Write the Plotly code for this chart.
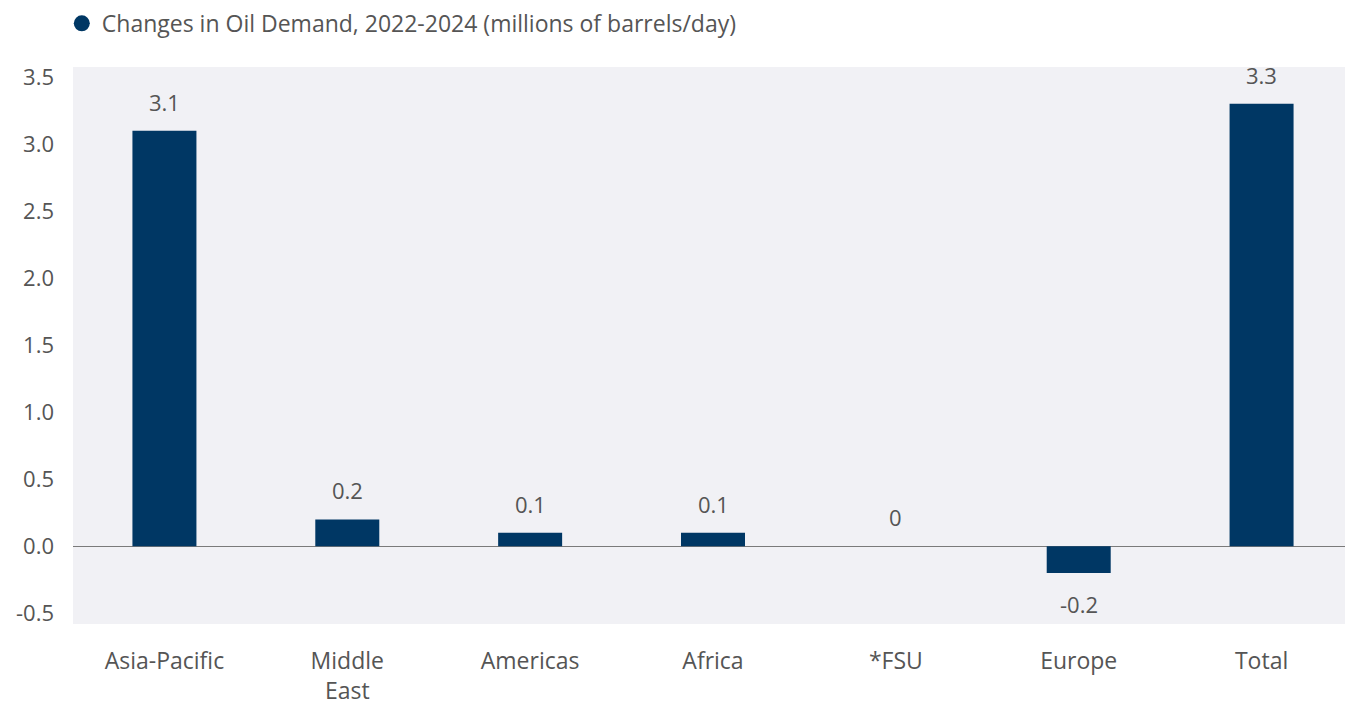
import plotly.graph_objects as go

categories = ["Asia-Pacific", "Middle<br>East", "Americas", "Africa", "*FSU", "Europe", "Total"]
values = [3.1, 0.2, 0.1, 0.1, 0, -0.2, 3.3]
labels = ["3.1", "0.2", "0.1", "0.1", "0", "-0.2", "3.3"]
series_name = "Changes in Oil Demand, 2022-2024 (millions of barrels/day)"
y_ticks = [-0.5, 0.0, 0.5, 1.0, 1.5, 2.0, 2.5, 3.0, 3.5]
y_ticktext = ["-0.5", "0.0", "0.5", "1.0", "1.5", "2.0", "2.5", "3.0", "3.5"]

NAVY = "#003764"
TEXT = "#555555"
FONT = "Open Sans"

fig = go.Figure()
fig.add_trace(go.Bar(
    x=categories, y=values,
    marker=dict(color=NAVY, line=dict(width=0)),
    width=0.35, showlegend=False,
))
fig.add_trace(go.Scatter(
    x=[None], y=[None], mode="markers", name=series_name,
    marker=dict(color=NAVY, size=16, symbol="circle"),
))

for c, v, t in zip(categories, values, labels):
    fig.add_annotation(x=c, y=v, text=t, showarrow=False,
                       yshift=29 if v >= 0 else -31,
                       font=dict(size=22, color=TEXT, family=FONT))

fig.update_layout(
    width=1345, height=699,
    margin=dict(l=65, r=0, t=59, b=83, autoexpand=False),
    paper_bgcolor="white", plot_bgcolor="#f1f1f5",
    font=dict(family=FONT, color=TEXT, size=22),
    showlegend=True,
    legend=dict(orientation="h", xref="container", yref="container",
                x=0.04, xanchor="left", y=0.978, yanchor="middle",
                font=dict(size=23, color=TEXT, family=FONT),
                itemsizing="trace", itemwidth=30, bgcolor="rgba(0,0,0,0)"),
)
fig.update_xaxes(showgrid=False, showline=False, ticks="", ticklabelstandoff=21,
                 automargin=False, tickfont=dict(size=23, color=TEXT, family=FONT))
fig.update_yaxes(range=[-0.58, 3.575], tickvals=y_ticks, ticktext=y_ticktext,
                 showgrid=False, zeroline=True, zerolinecolor="#7a7a7a", zerolinewidth=1.2,
                 ticks="", ticklabelstandoff=18, automargin=False,
                 tickfont=dict(size=22, color=TEXT, family=FONT))

fig.write_html("out.html")
